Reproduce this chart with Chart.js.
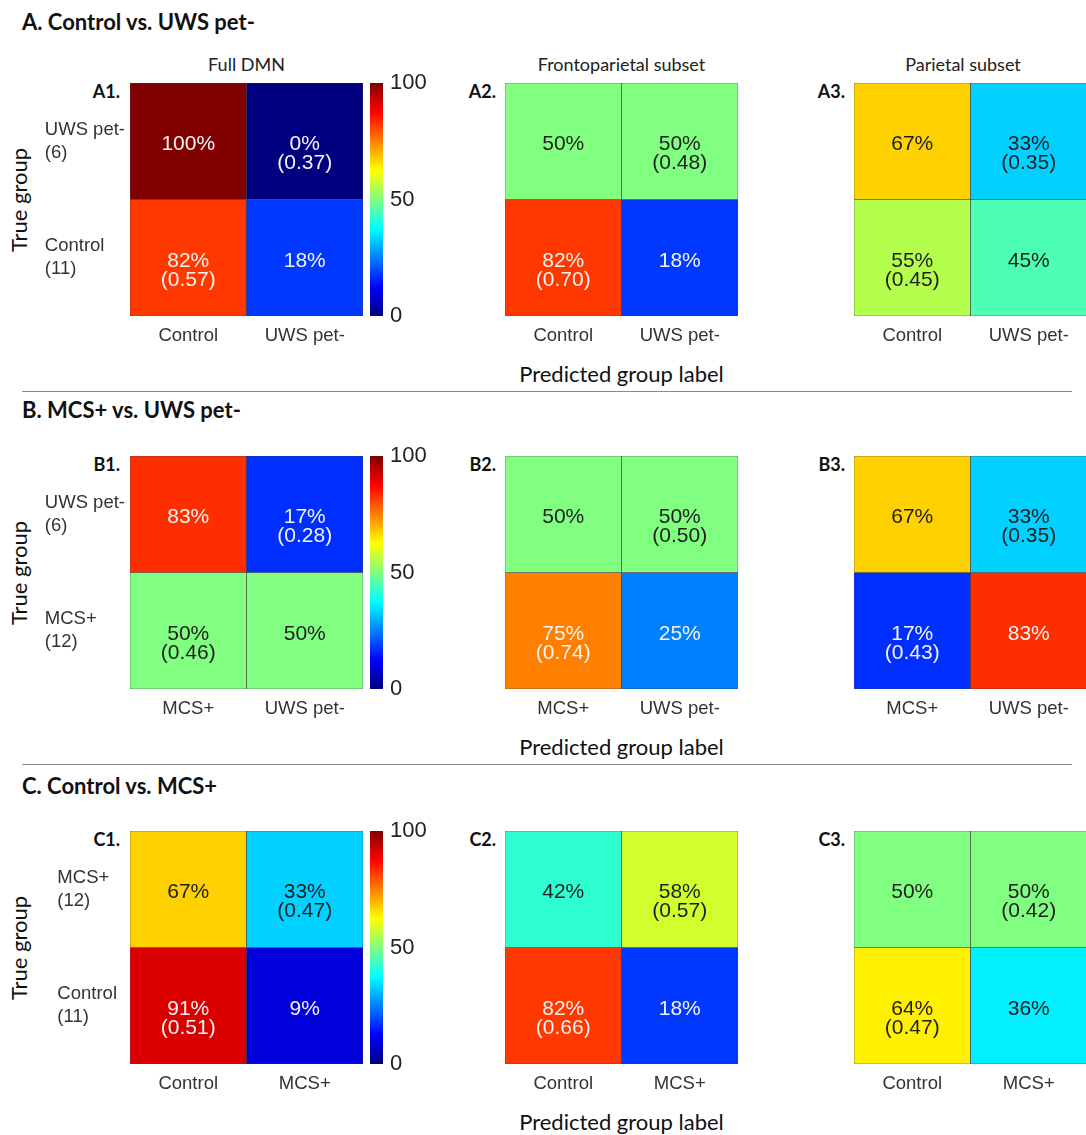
<!DOCTYPE html>
<html>
<head>
<meta charset="utf-8">
<script src="https://cdn.jsdelivr.net/npm/chart.js@4.4.1/dist/chart.umd.min.js"></script>
<style>
  html, body { margin: 0; padding: 0; background: #fff; }
  body { width: 1086px; height: 1135px; position: relative; overflow: hidden; font-family: Lato, "Open Sans", sans-serif; color: #111; }
  canvas { position: absolute; }
  .txt { position: absolute; white-space: nowrap; line-height: 1; }
  .sec { font-weight: 700; font-size: 22px; }
  .tag { font-weight: 700; font-size: 18px; }
  .sub { font-size: 18px; color: #222; }
  .axt { font-size: 22px; color: #111; }
  .sep { position: absolute; left: 22px; width: 1050px; height: 0; border-top: 1.5px solid #8a8a8a; }
</style>
</head>
<body>
<script>
// ---- data ----
const sectionTitles = ['A. Control vs. UWS pet-', 'B. MCS+ vs. UWS pet-', 'C. Control vs. MCS+'];
const subsetTitles = ['Full DMN', 'Frontoparietal subset', 'Parietal subset'];
const panelTags = [['A1.', 'A2.', 'A3.'], ['B1.', 'B2.', 'B3.'], ['C1.', 'C2.', 'C3.']];
const predictedLabels = [['Control', 'UWS pet-'], ['MCS+', 'UWS pet-'], ['Control', 'MCS+']];
const trueLabels = [
  [['UWS pet-', '(6)'], ['Control', '(11)']],
  [['UWS pet-', '(6)'], ['MCS+', '(12)']],
  [['MCS+', '(12)'], ['Control', '(11)']]
];
// percentages per panel: [top-left, top-right, bottom-left, bottom-right]
const percentA = [[100, 0, 82, 18], [50, 50, 82, 18], [67, 33, 55, 45]];
const percentB = [[83, 17, 50, 50], [50, 50, 75, 25], [67, 33, 17, 83]];
const percentC = [[67, 33, 91, 9], [42, 58, 82, 18], [50, 50, 64, 36]];
// bracketed values per panel: [top-right, bottom-left]
const bracketA = [[0.37, 0.57], [0.48, 0.70], [0.35, 0.45]];
const bracketB = [[0.28, 0.46], [0.50, 0.74], [0.35, 0.43]];
const bracketC = [[0.47, 0.51], [0.57, 0.66], [0.42, 0.47]];
const colorbarTicks = [0, 50, 100];

const percents = [percentA, percentB, percentC];
const brackets = [bracketA, bracketB, bracketC];

// ---- layout ----
const rowY = [83, 456, 831];
const colX = [130, 505, 854];
const CELL = 233;
const PADT = 30;
const titleY = [22, 410, 786];
const sepY = [391, 764];
const labelGap = [5, 5, 13];
const tickFont = { family: '"Liberation Sans", Arial, sans-serif', size: 18.5, lineHeight: 1.24 };

function jet(v) {
  const c = t => Math.round(255 * Math.max(0, Math.min(1, 1.5 - Math.abs(4 * v - t))));
  return 'rgb(' + c(3) + ',' + c(2) + ',' + c(1) + ')';
}

function addText(str, cls, x, y, how) {
  const d = document.createElement('div');
  d.className = 'txt ' + cls;
  d.textContent = str;
  d.style.left = x + 'px';
  d.style.top = y + 'px';
  d.style.transform = how;
  document.body.appendChild(d);
}

function addCanvas(left, top, w, h) {
  const c = document.createElement('canvas');
  c.width = w; c.height = h;
  c.style.left = left + 'px'; c.style.top = top + 'px';
  document.body.appendChild(c);
  return c;
}

const cellText = {
  id: 'cellText',
  afterDatasetsDraw(chart) {
    const ctx = chart.ctx;
    ctx.save();
    ctx.font = '21px "Liberation Sans", Arial, sans-serif';
    ctx.textAlign = 'center';
    ctx.textBaseline = 'middle';
    chart.data.datasets.forEach((ds, di) => {
      chart.getDatasetMeta(di).data.forEach((bar, i) => {
        const p = ds.pct[i];
        const note = ds.note[i];
        const pt = bar.getCenterPoint();
        ctx.fillStyle = (p >= 75 || p <= 25) ? '#f3f3f3' : '#1e1e1e';
        ctx.fillText(p + '%', pt.x, pt.y + 3);
        if (note !== null) ctx.fillText('(' + note.toFixed(2) + ')', pt.x, pt.y + 22);
      });
    });
    ctx.restore();
  }
};

const measure = document.createElement('canvas').getContext('2d');
measure.font = tickFont.size + 'px ' + tickFont.family;

for (let r = 0; r < 3; r++) {
  addText(sectionTitles[r], 'sec', 22, titleY[r], 'translate(0,-50%)');
  addText('True group', 'axt', 19, rowY[r] + CELL / 2, 'translate(-50%,-50%) rotate(-90deg)');
  addText('Predicted group label', 'axt', colX[1] + CELL / 2, rowY[r] + CELL + 58, 'translate(-50%,-50%)');

  for (let c = 0; c < 3; c++) {
    const pct = percents[r][c];
    const br = brackets[r][c];
    const labels = predictedLabels[r];
    addText(panelTags[r][c], 'tag', colX[c] - (c === 0 ? 10 : 9), rowY[r] + 8, 'translate(-100%,-50%)');
    if (r === 0) addText(subsetTitles[c], 'sub', c === 2 ? 963 : colX[c] + CELL / 2, 64, 'translate(-50%,-50%)');

    const first = c === 0;
    let yW = 0;
    if (first) {
      const lines = trueLabels[r].flat();
      yW = Math.max(...lines.map(s => measure.measureText(s).width)) + labelGap[r];
    }
    const padL = first ? colX[c] : 20;
    const canvas = addCanvas(colX[c] - padL, rowY[r] - PADT, padL + CELL + 5, PADT + CELL + 45);

    new Chart(canvas, {
      type: 'bar',
      data: {
        labels: labels,
        datasets: [0, 1].map(k => ({
          data: labels.map(() => [1 - k, 2 - k]),
          pct: [pct[2 * k], pct[2 * k + 1]],
          note: k === 0 ? [null, br[0]] : [br[1], null],
          backgroundColor: [jet(pct[2 * k] / 100), jet(pct[2 * k + 1] / 100)],
          borderColor: 'rgba(35,35,35,0.85)',
          borderWidth: 0.6,
          borderSkipped: false,
          barPercentage: 1,
          categoryPercentage: 1,
          grouped: false
        }))
      },
      options: {
        responsive: false,
        animation: false,
        layout: { padding: { left: padL - yW, top: PADT, right: 5, bottom: 0 } },
        plugins: { legend: { display: false }, tooltip: { enabled: false } },
        scales: {
          x: {
            grid: { display: false, drawTicks: false },
            border: { display: false },
            ticks: { font: tickFont, color: '#333', padding: 8 },
            afterFit: s => { s.height = 45; }
          },
          y: {
            display: first,
            min: 0,
            max: 2,
            grid: { display: false, drawTicks: false },
            border: { display: false },
            afterBuildTicks: s => { s.ticks = [{ value: 0.5 }, { value: 1.5 }]; },
            afterFit: s => { s.width = yW; },
            ticks: {
              font: tickFont,
              color: '#333',
              crossAlign: 'far',
              callback: v => v > 1 ? trueLabels[r][0] : trueLabels[r][1]
            }
          }
        }
      },
      plugins: [cellText]
    });
  }

  // colour bar
  const cb = addCanvas(370, rowY[r] - PADT, 13 + 50, CELL + 2 * PADT);
  new Chart(cb, {
    type: 'bar',
    data: {
      labels: [''],
      datasets: [{
        data: [[colorbarTicks[0], colorbarTicks[colorbarTicks.length - 1]]],
        backgroundColor: ctx => {
          const area = ctx.chart.chartArea;
          if (!area) return null;
          const g = ctx.chart.ctx.createLinearGradient(0, area.bottom, 0, area.top);
          for (let i = 0; i <= 32; i++) g.addColorStop(i / 32, jet(i / 32));
          return g;
        },
        borderWidth: 0,
        barPercentage: 1,
        categoryPercentage: 1
      }]
    },
    options: {
      responsive: false,
      animation: false,
      layout: { padding: { left: 0, top: PADT, right: 0, bottom: PADT } },
      plugins: { legend: { display: false }, tooltip: { enabled: false } },
      scales: {
        x: { display: false },
        y: {
          position: 'right',
          min: 0,
          max: 100,
          grid: { display: false, drawTicks: false },
          border: { display: false },
          afterBuildTicks: s => { s.ticks = colorbarTicks.map(v => ({ value: v })); },
          afterFit: s => { s.width = 50; },
          ticks: { font: { family: '"Liberation Sans", Arial, sans-serif', size: 22 }, color: '#222', padding: 7 }
        }
      }
    }
  });
}

sepY.forEach(y => {
  const d = document.createElement('div');
  d.className = 'sep';
  d.style.top = y + 'px';
  document.body.appendChild(d);
});
</script>
</body>
</html>
